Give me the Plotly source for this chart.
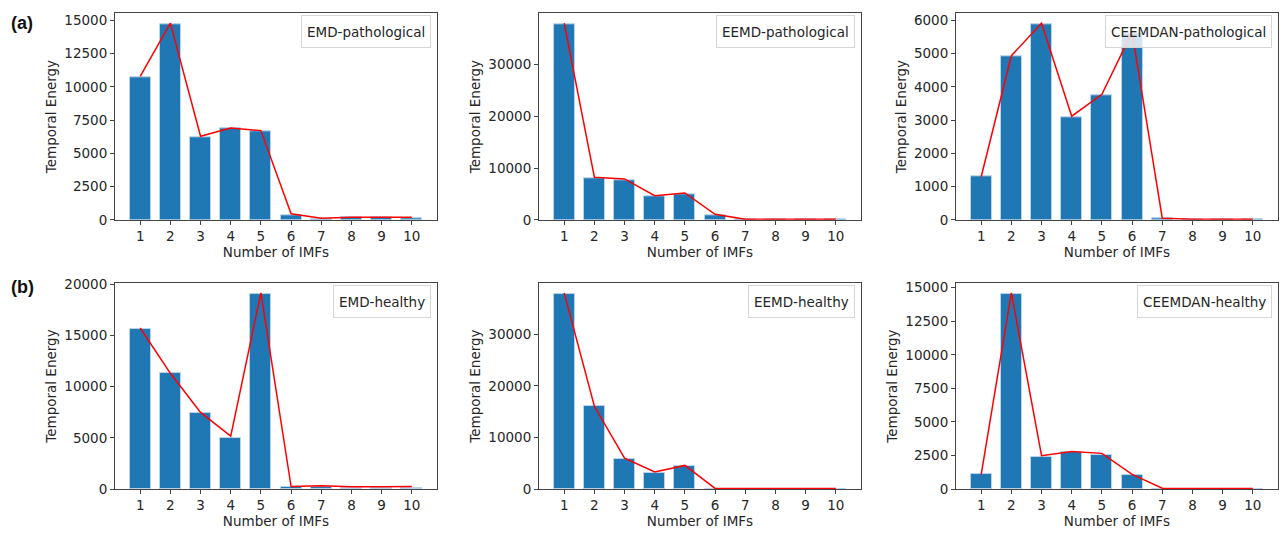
import plotly.graph_objects as go

# ---------------- data ----------------
imfs = [1, 2, 3, 4, 5, 6, 7, 8, 9, 10]

emd_path_bar = [10730, 14680, 6220, 6880, 6630, 370, 20, 170, 200, 120]
emd_path_line = [10780, 14790, 6290, 6900, 6710, 460, 120, 200, 200, 200]

eemd_path_bar = [37850, 8040, 7600, 4560, 4940, 820, 50, 50, 50, 50]
eemd_path_line = [38000, 8230, 7910, 4680, 5190, 1080, 100, 100, 100, 100]

ceemdan_path_bar = [1296, 4930, 5890, 3090, 3750, 5620, 50, 10, 10, 10]
ceemdan_path_line = [1296, 4940, 5920, 3120, 3780, 5650, 50, 20, 20, 20]

emd_h_bar = [15630, 11350, 7390, 5010, 18990, 160, 160, 130, 130, 130]
emd_h_line = [15720, 11300, 7480, 5170, 19150, 250, 320, 220, 220, 250]

eemd_h_bar = [37900, 16180, 5860, 3060, 4400, 30, 20, 20, 20, 20]
eemd_h_line = [38050, 16050, 5990, 3310, 4590, 130, 130, 130, 130, 130]

ceemdan_h_bar = [1090, 14490, 2420, 2730, 2560, 1010, 20, 10, 10, 10]
ceemdan_h_line = [1100, 14610, 2490, 2800, 2660, 1090, 70, 50, 50, 50]

panel_labels = ["EMD-pathological", "EEMD-pathological", "CEEMDAN-pathological",
                "EMD-healthy", "EEMD-healthy", "CEEMDAN-healthy"]
row_labels = ["(a)", "(b)"]
x_title = "Number of IMFs"
y_title = "Temporal Energy"

panels = [
    (emd_path_bar, emd_path_line, 2500),
    (eemd_path_bar, eemd_path_line, 10000),
    (ceemdan_path_bar, ceemdan_path_line, 1000),
    (emd_h_bar, emd_h_line, 5000),
    (eemd_h_bar, eemd_h_line, 10000),
    (ceemdan_h_bar, ceemdan_h_line, 2500),
]

# ---------------- layout geometry ----------------
W, H = 1282, 535
col_left = [115, 539, 956]
col_w = 322
row_top = [6.5, 284]
row_bottom = [219, 496]

FONT = "DejaVu Sans"
FS = 13.5
TXT = "#262626"
SPINE = "#444444"
BAR_W = 0.7

fig = go.Figure()
layout = dict(
    width=W, height=H,
    margin=dict(l=0, r=0, t=0, b=0),
    paper_bgcolor="white", plot_bgcolor="white",
    showlegend=False,
    font=dict(family=FONT, size=FS, color=TXT),
    bargap=0,
)
annotations = []

xmin = min(imfs) - BAR_W / 2
xmax = max(imfs) + BAR_W / 2
pad = (xmax - xmin) * 0.05

for i, (bars, line, dtick) in enumerate(panels):
    r, c = divmod(i, 3)
    n = i + 1
    xa = "x" if n == 1 else f"x{n}"
    ya = "y" if n == 1 else f"y{n}"
    xkey = "xaxis" if n == 1 else f"xaxis{n}"
    ykey = "yaxis" if n == 1 else f"yaxis{n}"

    fig.add_trace(go.Bar(
        x=imfs, y=bars, width=BAR_W, xaxis=xa, yaxis=ya,
        marker=dict(color="#1f77b4", line=dict(color="#b9d3ea", width=1)),
    ))
    fig.add_trace(go.Scatter(
        x=imfs, y=line, mode="lines", xaxis=xa, yaxis=ya,
        line=dict(color="#ff0000", width=1.5),
    ))

    ymax = max(max(bars), max(line)) * 1.05
    x0 = col_left[c] / W
    x1 = (col_left[c] + col_w) / W
    y0 = 1 - row_bottom[r] / H
    y1 = 1 - row_top[r] / H

    layout[xkey] = dict(
        domain=[x0, x1], anchor=ya, range=[xmin - pad, xmax + pad],
        tickmode="array", tickvals=imfs, ticktext=[str(v) for v in imfs],
        showline=True, linecolor=SPINE, linewidth=1, mirror=True,
        ticks="outside", ticklen=4, tickcolor=SPINE, showgrid=False,
        zeroline=False, tickfont=dict(family=FONT, size=FS, color=TXT),
        title=dict(text=x_title, font=dict(family=FONT, size=FS, color=TXT), standoff=0),
    )
    layout[ykey] = dict(
        domain=[y0, y1], anchor=xa, range=[0, ymax],
        tick0=0, dtick=dtick, tickformat="d",
        showline=True, linecolor=SPINE, linewidth=1, mirror=True,
        ticks="outside", ticklen=4, tickcolor=SPINE, showgrid=False,
        zeroline=False, tickfont=dict(family=FONT, size=FS, color=TXT),
        title=dict(text=y_title, font=dict(family=FONT, size=FS, color=TXT), standoff=4),
    )

    annotations.append(dict(
        text=panel_labels[i], xref=f"{xa} domain", yref=f"{ya} domain",
        x=0.982, y=0.992, xanchor="right", yanchor="top", showarrow=False,
        font=dict(family=FONT, size=FS, color=TXT),
        bgcolor="rgba(255,255,255,0.8)", bordercolor="#d6d6d6", borderwidth=1,
        borderpad=5, height=21,
    ))

label_y = [16, 288]
for r, lab in enumerate(row_labels):
    annotations.append(dict(
        text=f"<b>{lab}</b>", xref="paper", yref="paper",
        x=9 / W, y=1 - label_y[r] / H, xanchor="left", yanchor="middle",
        showarrow=False, font=dict(family="Liberation Sans", size=18, color="#111111"),
    ))

layout["annotations"] = annotations
fig.update_layout(**layout)
fig.write_html("out.html")
